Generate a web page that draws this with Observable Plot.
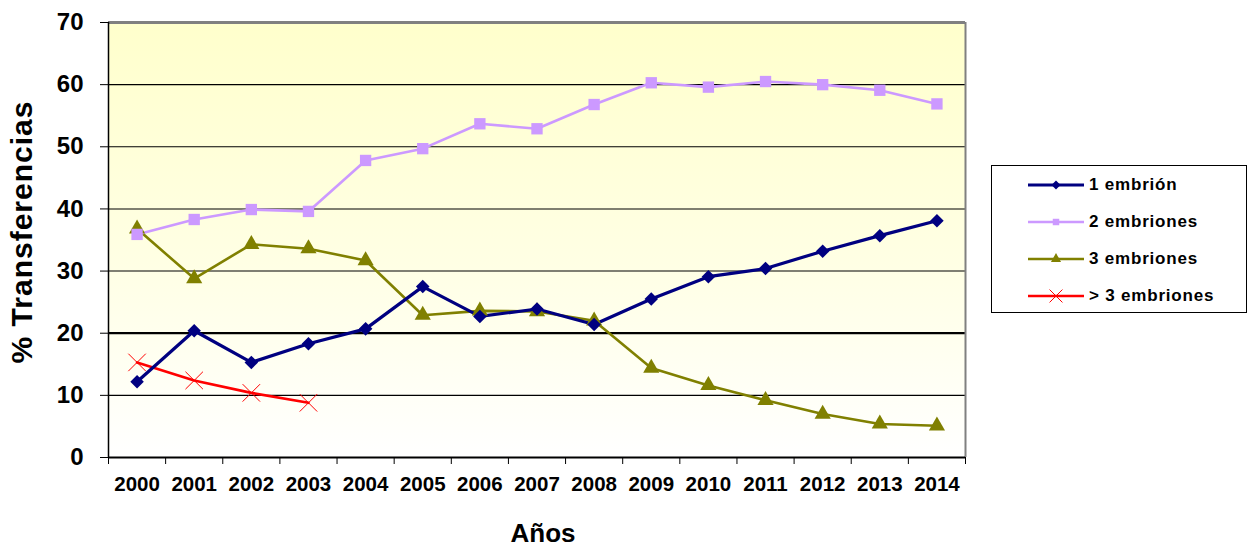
<!DOCTYPE html>
<html>
<head>
<meta charset="utf-8">
<script src="https://cdn.jsdelivr.net/npm/d3@7"></script>
<script src="https://cdn.jsdelivr.net/npm/@observablehq/plot@0.6"></script>
<style>
  html, body { margin: 0; padding: 0; background: #fff; }
  #wrap { position: relative; width: 1248px; height: 546px; font-family: "Liberation Sans", Arial, sans-serif; }
  #ytitle { position: absolute; left: 22px; top: 232px; transform: translate(-50%, -50%) rotate(-90deg);
    font-size: 30px; font-weight: bold; letter-spacing: 1px; white-space: nowrap; color: #000; }
  #xtitle { position: absolute; left: 543px; top: 533px; transform: translate(-50%, -50%);
    font-size: 26px; font-weight: bold; white-space: nowrap; color: #000; }
  #legend { position: absolute; left: 991px; top: 165px; width: 254px; height: 146px; border: 1.5px solid #000; background: #fff; }
  .lg-row { position: absolute; left: 36px; height: 20px; display: flex; align-items: center; }
  .lg-row span { font-size: 17px; font-weight: bold; letter-spacing: 0.8px; margin-left: 5px; color: #000; }
</style>
</head>
<body>
<div id="wrap">
  <div id="chart"></div>
  <div id="ytitle">% Transferencias</div>
  <div id="xtitle">Años</div>
  <div id="legend"></div>
</div>
<script>
// ---- data ----
const years = [2000, 2001, 2002, 2003, 2004, 2005, 2006, 2007, 2008, 2009, 2010, 2011, 2012, 2013, 2014];
const emb1 = [12.2, 20.4, 15.3, 18.3, 20.7, 27.5, 22.7, 23.9, 21.4, 25.5, 29.1, 30.4, 33.2, 35.7, 38.1];
const emb2 = [35.9, 38.3, 39.9, 39.6, 47.8, 49.7, 53.7, 52.9, 56.8, 60.3, 59.6, 60.5, 60.0, 59.1, 56.9];
const emb3 = [36.8, 28.8, 34.3, 33.6, 31.7, 22.9, 23.6, 23.5, 22.0, 14.4, 11.6, 9.2, 7.0, 5.4, 5.1];
const embMas3Years = [2000, 2001, 2002, 2003];
const embMas3 = [15.3, 12.4, 10.4, 8.8];
const seriesNames = ["1 embrión", "2 embriones", "3 embriones", "> 3 embriones"];
const yTicks = [0, 10, 20, 30, 40, 50, 60, 70];
const yTitle = "% Transferencias";
const xTitle = "Años";

const colors = ["#000080", "#CC99FF", "#808000", "#FF0000"];

const rows = (vals, yrs, name) => vals.map((v, i) => ({year: yrs[i], value: v, series: name}));
const d1 = rows(emb1, years, seriesNames[0]);
const d2 = rows(emb2, years, seriesNames[1]);
const d3s = rows(emb3, years, seriesNames[2]);
const d4 = rows(embMas3, embMas3Years, seriesNames[3]);

const boundaries = [...years.map(y => y - 0.5), years[years.length - 1] + 0.5];
const xDomain = [boundaries[0], boundaries[boundaries.length - 1]];
const font = "Liberation Sans, Arial, sans-serif";

const chart = Plot.plot({
  width: 1248,
  height: 546,
  marginLeft: 108,
  marginRight: 283,
  marginTop: 22,
  marginBottom: 89,
  style: {fontFamily: font, background: "transparent", overflow: "visible"},
  x: {type: "linear", domain: xDomain, axis: null},
  y: {domain: [0, 70], axis: null},
  marks: [
    Plot.frame({fill: "url(#bgGrad)", stroke: "none"}),
    Plot.ruleY(yTicks.filter(t => t > 0 && t < 70), {stroke: "#000", strokeWidth: d => d === 20 ? 2.2 : 1.1}),
    Plot.ruleY([70], {stroke: "#808080", strokeWidth: 3}),
    Plot.ruleX([xDomain[1]], {stroke: "#808080", strokeWidth: 2}),
    Plot.ruleX([xDomain[0]], {stroke: "#000", strokeWidth: 1.5}),
    Plot.ruleY([0], {stroke: "#000", strokeWidth: 2.2}),
    Plot.axisY({ticks: yTicks, tickSize: 8, tickPadding: 17, tickFormat: d => String(d), label: null,
      fontSize: 24, fontWeight: "bold", fontFamily: font, stroke: "#000"}),
    Plot.axisX({ticks: boundaries, tickSize: 7, tickFormat: () => "", label: null, stroke: "#000"}),
    Plot.axisX({ticks: years, tickSize: 0, tickPadding: 19, tickFormat: d => String(d), label: null,
      fontSize: 20.5, fontWeight: "bold", fontFamily: font}),
    // lines
    Plot.line(d4, {x: "year", y: "value", stroke: colors[3], strokeWidth: 2.6}),
    Plot.line(d3s, {x: "year", y: "value", stroke: colors[2], strokeWidth: 2.6}),
    Plot.line(d2, {x: "year", y: "value", stroke: colors[1], strokeWidth: 2.6}),
    Plot.line(d1, {x: "year", y: "value", stroke: colors[0], strokeWidth: 3.2}),
    // markers
    Plot.dot(d4, {x: "year", y: "value", symbol: "times", r: 8, stroke: colors[3], strokeWidth: 1}),
    Plot.dot(d3s, {x: "year", y: "value", symbol: "triangle", r: 6, fill: colors[2]}),
    Plot.dot(d2, {x: "year", y: "value", symbol: "square", r: 6.4, fill: colors[1]}),
    Plot.dot(d1, {x: "year", y: "value", symbol: "square", rotate: 45, r: 5.4, fill: colors[0]})
  ]
});

// gradient background for the plot area
const svgSel = d3.select(chart);
const defs = svgSel.insert("defs", ":first-child");
const grad = defs.append("linearGradient").attr("id", "bgGrad").attr("x1", 0).attr("y1", 0).attr("x2", 0).attr("y2", 1);
grad.append("stop").attr("offset", "0%").attr("stop-color", "#FFFFCC");
grad.append("stop").attr("offset", "55%").attr("stop-color", "#FFFFE4");
grad.append("stop").attr("offset", "100%").attr("stop-color", "#FFFFFF");
document.getElementById("chart").appendChild(chart);

// legend
const legend = document.getElementById("legend");
const symbols = [
  {type: d3.symbolSquare, size: 40, rotate: 45, fill: colors[0], stroke: "none", sw: 3.2},
  {type: d3.symbolSquare, size: 42, rotate: 0, fill: colors[1], stroke: "none", sw: 2.6},
  {type: d3.symbolTriangle, size: 45, rotate: 0, fill: colors[2], stroke: "none", sw: 2.6},
  {type: d3.symbolTimes, size: 110, rotate: 0, fill: "none", stroke: colors[3], sw: 2.6}
];
const rowTops = [9, 46, 83, 120];
seriesNames.forEach((name, i) => {
  const row = document.createElement("div");
  row.className = "lg-row";
  row.style.top = rowTops[i] + "px";
  const s = d3.create("svg").attr("width", 56).attr("height", 20);
  s.append("line").attr("x1", 0).attr("x2", 56).attr("y1", 10).attr("y2", 10)
    .attr("stroke", colors[i]).attr("stroke-width", symbols[i].sw);
  s.append("path").attr("d", d3.symbol(symbols[i].type, symbols[i].size)())
    .attr("transform", `translate(28,10) rotate(${symbols[i].rotate})`)
    .attr("fill", symbols[i].fill).attr("stroke", symbols[i].stroke).attr("stroke-width", 1);
  row.appendChild(s.node());
  const t = document.createElement("span");
  t.textContent = name;
  row.appendChild(t);
  legend.appendChild(row);
});
</script>
</body>
</html>
